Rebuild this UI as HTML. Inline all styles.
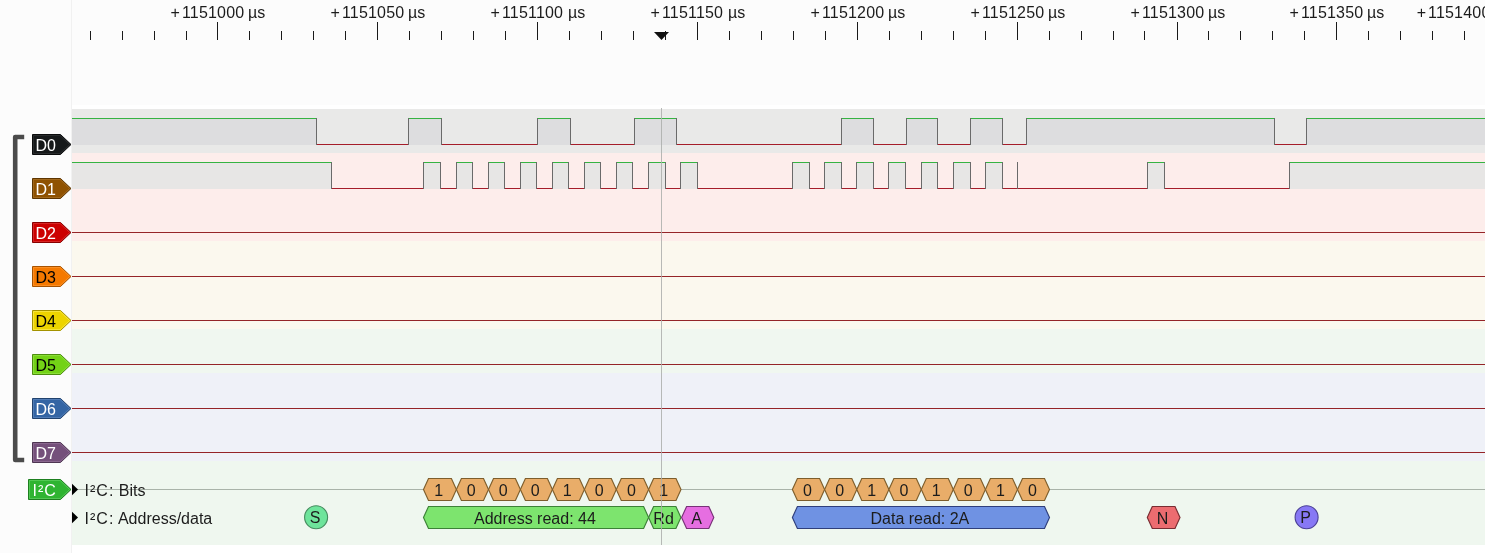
<!DOCTYPE html>
<html lang="en"><head><meta charset="utf-8"><title>PulseView I2C decode</title>
<style>html,body{margin:0;padding:0;background:#fcfcfc;}body{width:1485px;height:553px;overflow:hidden;}svg{display:block;}text{font-family:"Liberation Sans", Arial, sans-serif;}</style>
</head><body>
<svg width="1485" height="553" viewBox="0 0 1485 553">
<rect x="0" y="0" width="1485" height="553" fill="#fcfcfc"/>
<rect x="72" y="105" width="1413" height="448" fill="#ffffff"/>
<rect x="71" y="0" width="1" height="553" fill="#f1f1f1"/>
<g shape-rendering="crispEdges">
<rect x="72" y="109" width="1413" height="44" fill="#e9e9e8"/>
<rect x="72" y="153" width="1413" height="88" fill="#fdedeb"/>
<rect x="72" y="241" width="1413" height="88" fill="#fbf8ee"/>
<rect x="72" y="329" width="1413" height="44" fill="#f0f7f0"/>
<rect x="72" y="373" width="1413" height="88" fill="#eff1f8"/>
<rect x="72" y="461" width="1413" height="84" fill="#eff7ef"/>
<rect x="217" y="22" width="1" height="18" fill="#1a1a1a"/>
<rect x="377" y="22" width="1" height="18" fill="#1a1a1a"/>
<rect x="537" y="22" width="1" height="18" fill="#1a1a1a"/>
<rect x="697" y="22" width="1" height="18" fill="#1a1a1a"/>
<rect x="857" y="22" width="1" height="18" fill="#1a1a1a"/>
<rect x="1017" y="22" width="1" height="18" fill="#1a1a1a"/>
<rect x="1177" y="22" width="1" height="18" fill="#1a1a1a"/>
<rect x="1336" y="22" width="1" height="18" fill="#1a1a1a"/>
<rect x="90" y="31" width="1" height="9" fill="#1a1a1a"/>
<rect x="122" y="31" width="1" height="9" fill="#1a1a1a"/>
<rect x="154" y="31" width="1" height="9" fill="#1a1a1a"/>
<rect x="186" y="31" width="1" height="9" fill="#1a1a1a"/>
<rect x="249" y="31" width="1" height="9" fill="#1a1a1a"/>
<rect x="281" y="31" width="1" height="9" fill="#1a1a1a"/>
<rect x="313" y="31" width="1" height="9" fill="#1a1a1a"/>
<rect x="345" y="31" width="1" height="9" fill="#1a1a1a"/>
<rect x="409" y="31" width="1" height="9" fill="#1a1a1a"/>
<rect x="441" y="31" width="1" height="9" fill="#1a1a1a"/>
<rect x="473" y="31" width="1" height="9" fill="#1a1a1a"/>
<rect x="505" y="31" width="1" height="9" fill="#1a1a1a"/>
<rect x="569" y="31" width="1" height="9" fill="#1a1a1a"/>
<rect x="601" y="31" width="1" height="9" fill="#1a1a1a"/>
<rect x="633" y="31" width="1" height="9" fill="#1a1a1a"/>
<rect x="665" y="31" width="1" height="9" fill="#1a1a1a"/>
<rect x="729" y="31" width="1" height="9" fill="#1a1a1a"/>
<rect x="761" y="31" width="1" height="9" fill="#1a1a1a"/>
<rect x="793" y="31" width="1" height="9" fill="#1a1a1a"/>
<rect x="825" y="31" width="1" height="9" fill="#1a1a1a"/>
<rect x="889" y="31" width="1" height="9" fill="#1a1a1a"/>
<rect x="921" y="31" width="1" height="9" fill="#1a1a1a"/>
<rect x="953" y="31" width="1" height="9" fill="#1a1a1a"/>
<rect x="985" y="31" width="1" height="9" fill="#1a1a1a"/>
<rect x="1049" y="31" width="1" height="9" fill="#1a1a1a"/>
<rect x="1081" y="31" width="1" height="9" fill="#1a1a1a"/>
<rect x="1113" y="31" width="1" height="9" fill="#1a1a1a"/>
<rect x="1144" y="31" width="1" height="9" fill="#1a1a1a"/>
<rect x="1208" y="31" width="1" height="9" fill="#1a1a1a"/>
<rect x="1240" y="31" width="1" height="9" fill="#1a1a1a"/>
<rect x="1272" y="31" width="1" height="9" fill="#1a1a1a"/>
<rect x="1304" y="31" width="1" height="9" fill="#1a1a1a"/>
<rect x="1368" y="31" width="1" height="9" fill="#1a1a1a"/>
<rect x="1400" y="31" width="1" height="9" fill="#1a1a1a"/>
<rect x="1432" y="31" width="1" height="9" fill="#1a1a1a"/>
<rect x="1464" y="31" width="1" height="9" fill="#1a1a1a"/>
</g>
<text y="18.3" font-size="16" fill="#1c1c1c"><tspan x="170.6">+</tspan><tspan x="181.9" letter-spacing="0.2">1151000</tspan><tspan x="248.0">µs</tspan></text>
<text y="18.3" font-size="16" fill="#1c1c1c"><tspan x="330.6">+</tspan><tspan x="341.9" letter-spacing="0.2">1151050</tspan><tspan x="408.0">µs</tspan></text>
<text y="18.3" font-size="16" fill="#1c1c1c"><tspan x="490.6">+</tspan><tspan x="501.9" letter-spacing="0.2">1151100</tspan><tspan x="568.0">µs</tspan></text>
<text y="18.3" font-size="16" fill="#1c1c1c"><tspan x="650.6">+</tspan><tspan x="661.9" letter-spacing="0.2">1151150</tspan><tspan x="728.0">µs</tspan></text>
<text y="18.3" font-size="16" fill="#1c1c1c"><tspan x="810.6">+</tspan><tspan x="821.9" letter-spacing="0.2">1151200</tspan><tspan x="888.0">µs</tspan></text>
<text y="18.3" font-size="16" fill="#1c1c1c"><tspan x="970.6">+</tspan><tspan x="981.9" letter-spacing="0.2">1151250</tspan><tspan x="1048.0">µs</tspan></text>
<text y="18.3" font-size="16" fill="#1c1c1c"><tspan x="1130.6">+</tspan><tspan x="1141.9" letter-spacing="0.2">1151300</tspan><tspan x="1208.0">µs</tspan></text>
<text y="18.3" font-size="16" fill="#1c1c1c"><tspan x="1289.6">+</tspan><tspan x="1300.9" letter-spacing="0.2">1151350</tspan><tspan x="1367.0">µs</tspan></text>
<text y="18.3" font-size="16" fill="#1c1c1c"><tspan x="1416.7">+</tspan><tspan x="1428.0" letter-spacing="0.2">1151400</tspan><tspan x="1494.1">µs</tspan></text>
<polygon points="654,32 669,32 661.5,40" fill="#111"/>
<g shape-rendering="crispEdges">
<rect x="72" y="119" width="244" height="26" fill="#dddddf"/>
<rect x="408" y="119" width="33" height="26" fill="#dddddf"/>
<rect x="537" y="119" width="33" height="26" fill="#dddddf"/>
<rect x="634" y="119" width="42" height="26" fill="#dddddf"/>
<rect x="841" y="119" width="32" height="26" fill="#dddddf"/>
<rect x="906" y="119" width="31" height="26" fill="#dddddf"/>
<rect x="970" y="119" width="32" height="26" fill="#dddddf"/>
<rect x="1026" y="119" width="248" height="26" fill="#dddddf"/>
<rect x="1306" y="119" width="179" height="26" fill="#dddddf"/>
<rect x="72" y="118" width="245" height="1" fill="#36b342"/>
<rect x="316" y="144" width="93" height="1" fill="#a51d2a"/>
<rect x="408" y="118" width="34" height="1" fill="#36b342"/>
<rect x="441" y="144" width="97" height="1" fill="#a51d2a"/>
<rect x="537" y="118" width="34" height="1" fill="#36b342"/>
<rect x="570" y="144" width="65" height="1" fill="#a51d2a"/>
<rect x="634" y="118" width="43" height="1" fill="#36b342"/>
<rect x="676" y="144" width="166" height="1" fill="#a51d2a"/>
<rect x="841" y="118" width="33" height="1" fill="#36b342"/>
<rect x="873" y="144" width="34" height="1" fill="#a51d2a"/>
<rect x="906" y="118" width="32" height="1" fill="#36b342"/>
<rect x="937" y="144" width="34" height="1" fill="#a51d2a"/>
<rect x="970" y="118" width="33" height="1" fill="#36b342"/>
<rect x="1002" y="144" width="25" height="1" fill="#a51d2a"/>
<rect x="1026" y="118" width="249" height="1" fill="#36b342"/>
<rect x="1274" y="144" width="33" height="1" fill="#a51d2a"/>
<rect x="1306" y="118" width="179" height="1" fill="#36b342"/>
<rect x="316" y="118" width="1" height="27" fill="#6a6a6a"/>
<rect x="408" y="118" width="1" height="27" fill="#6a6a6a"/>
<rect x="441" y="118" width="1" height="27" fill="#6a6a6a"/>
<rect x="537" y="118" width="1" height="27" fill="#6a6a6a"/>
<rect x="570" y="118" width="1" height="27" fill="#6a6a6a"/>
<rect x="634" y="118" width="1" height="27" fill="#6a6a6a"/>
<rect x="676" y="118" width="1" height="27" fill="#6a6a6a"/>
<rect x="841" y="118" width="1" height="27" fill="#6a6a6a"/>
<rect x="873" y="118" width="1" height="27" fill="#6a6a6a"/>
<rect x="906" y="118" width="1" height="27" fill="#6a6a6a"/>
<rect x="937" y="118" width="1" height="27" fill="#6a6a6a"/>
<rect x="970" y="118" width="1" height="27" fill="#6a6a6a"/>
<rect x="1002" y="118" width="1" height="27" fill="#6a6a6a"/>
<rect x="1026" y="118" width="1" height="27" fill="#6a6a6a"/>
<rect x="1274" y="118" width="1" height="27" fill="#6a6a6a"/>
<rect x="1306" y="118" width="1" height="27" fill="#6a6a6a"/>
</g>
<g shape-rendering="crispEdges">
<rect x="72" y="163" width="259" height="26" fill="#e7e6e5"/>
<rect x="423" y="163" width="17" height="26" fill="#e7e6e5"/>
<rect x="456" y="163" width="16" height="26" fill="#e7e6e5"/>
<rect x="488" y="163" width="16" height="26" fill="#e7e6e5"/>
<rect x="520" y="163" width="16" height="26" fill="#e7e6e5"/>
<rect x="552" y="163" width="16" height="26" fill="#e7e6e5"/>
<rect x="584" y="163" width="16" height="26" fill="#e7e6e5"/>
<rect x="616" y="163" width="16" height="26" fill="#e7e6e5"/>
<rect x="648" y="163" width="17" height="26" fill="#e7e6e5"/>
<rect x="680" y="163" width="17" height="26" fill="#e7e6e5"/>
<rect x="792" y="163" width="17" height="26" fill="#e7e6e5"/>
<rect x="824" y="163" width="17" height="26" fill="#e7e6e5"/>
<rect x="856" y="163" width="17" height="26" fill="#e7e6e5"/>
<rect x="888" y="163" width="17" height="26" fill="#e7e6e5"/>
<rect x="921" y="163" width="16" height="26" fill="#e7e6e5"/>
<rect x="953" y="163" width="17" height="26" fill="#e7e6e5"/>
<rect x="985" y="163" width="17" height="26" fill="#e7e6e5"/>
<rect x="1147" y="163" width="17" height="26" fill="#e7e6e5"/>
<rect x="1289" y="163" width="196" height="26" fill="#e7e6e5"/>
<rect x="72" y="162" width="260" height="1" fill="#36b342"/>
<rect x="331" y="188" width="93" height="1" fill="#a51d2a"/>
<rect x="423" y="162" width="18" height="1" fill="#36b342"/>
<rect x="440" y="188" width="17" height="1" fill="#a51d2a"/>
<rect x="456" y="162" width="17" height="1" fill="#36b342"/>
<rect x="472" y="188" width="17" height="1" fill="#a51d2a"/>
<rect x="488" y="162" width="17" height="1" fill="#36b342"/>
<rect x="504" y="188" width="17" height="1" fill="#a51d2a"/>
<rect x="520" y="162" width="17" height="1" fill="#36b342"/>
<rect x="536" y="188" width="17" height="1" fill="#a51d2a"/>
<rect x="552" y="162" width="17" height="1" fill="#36b342"/>
<rect x="568" y="188" width="17" height="1" fill="#a51d2a"/>
<rect x="584" y="162" width="17" height="1" fill="#36b342"/>
<rect x="600" y="188" width="17" height="1" fill="#a51d2a"/>
<rect x="616" y="162" width="17" height="1" fill="#36b342"/>
<rect x="632" y="188" width="17" height="1" fill="#a51d2a"/>
<rect x="648" y="162" width="18" height="1" fill="#36b342"/>
<rect x="665" y="188" width="16" height="1" fill="#a51d2a"/>
<rect x="680" y="162" width="18" height="1" fill="#36b342"/>
<rect x="697" y="188" width="96" height="1" fill="#a51d2a"/>
<rect x="792" y="162" width="18" height="1" fill="#36b342"/>
<rect x="809" y="188" width="16" height="1" fill="#a51d2a"/>
<rect x="824" y="162" width="18" height="1" fill="#36b342"/>
<rect x="841" y="188" width="16" height="1" fill="#a51d2a"/>
<rect x="856" y="162" width="18" height="1" fill="#36b342"/>
<rect x="873" y="188" width="16" height="1" fill="#a51d2a"/>
<rect x="888" y="162" width="18" height="1" fill="#36b342"/>
<rect x="905" y="188" width="17" height="1" fill="#a51d2a"/>
<rect x="921" y="162" width="17" height="1" fill="#36b342"/>
<rect x="937" y="188" width="17" height="1" fill="#a51d2a"/>
<rect x="953" y="162" width="18" height="1" fill="#36b342"/>
<rect x="970" y="188" width="16" height="1" fill="#a51d2a"/>
<rect x="985" y="162" width="18" height="1" fill="#36b342"/>
<rect x="1002" y="188" width="146" height="1" fill="#a51d2a"/>
<rect x="1147" y="162" width="18" height="1" fill="#36b342"/>
<rect x="1164" y="188" width="126" height="1" fill="#a51d2a"/>
<rect x="1289" y="162" width="196" height="1" fill="#36b342"/>
<rect x="331" y="162" width="1" height="27" fill="#6a6a6a"/>
<rect x="423" y="162" width="1" height="27" fill="#6a6a6a"/>
<rect x="440" y="162" width="1" height="27" fill="#6a6a6a"/>
<rect x="456" y="162" width="1" height="27" fill="#6a6a6a"/>
<rect x="472" y="162" width="1" height="27" fill="#6a6a6a"/>
<rect x="488" y="162" width="1" height="27" fill="#6a6a6a"/>
<rect x="504" y="162" width="1" height="27" fill="#6a6a6a"/>
<rect x="520" y="162" width="1" height="27" fill="#6a6a6a"/>
<rect x="536" y="162" width="1" height="27" fill="#6a6a6a"/>
<rect x="552" y="162" width="1" height="27" fill="#6a6a6a"/>
<rect x="568" y="162" width="1" height="27" fill="#6a6a6a"/>
<rect x="584" y="162" width="1" height="27" fill="#6a6a6a"/>
<rect x="600" y="162" width="1" height="27" fill="#6a6a6a"/>
<rect x="616" y="162" width="1" height="27" fill="#6a6a6a"/>
<rect x="632" y="162" width="1" height="27" fill="#6a6a6a"/>
<rect x="648" y="162" width="1" height="27" fill="#6a6a6a"/>
<rect x="665" y="162" width="1" height="27" fill="#6a6a6a"/>
<rect x="680" y="162" width="1" height="27" fill="#6a6a6a"/>
<rect x="697" y="162" width="1" height="27" fill="#6a6a6a"/>
<rect x="792" y="162" width="1" height="27" fill="#6a6a6a"/>
<rect x="809" y="162" width="1" height="27" fill="#6a6a6a"/>
<rect x="824" y="162" width="1" height="27" fill="#6a6a6a"/>
<rect x="841" y="162" width="1" height="27" fill="#6a6a6a"/>
<rect x="856" y="162" width="1" height="27" fill="#6a6a6a"/>
<rect x="873" y="162" width="1" height="27" fill="#6a6a6a"/>
<rect x="888" y="162" width="1" height="27" fill="#6a6a6a"/>
<rect x="905" y="162" width="1" height="27" fill="#6a6a6a"/>
<rect x="921" y="162" width="1" height="27" fill="#6a6a6a"/>
<rect x="937" y="162" width="1" height="27" fill="#6a6a6a"/>
<rect x="953" y="162" width="1" height="27" fill="#6a6a6a"/>
<rect x="970" y="162" width="1" height="27" fill="#6a6a6a"/>
<rect x="985" y="162" width="1" height="27" fill="#6a6a6a"/>
<rect x="1002" y="162" width="1" height="27" fill="#6a6a6a"/>
<rect x="1147" y="162" width="1" height="27" fill="#6a6a6a"/>
<rect x="1164" y="162" width="1" height="27" fill="#6a6a6a"/>
<rect x="1289" y="162" width="1" height="27" fill="#6a6a6a"/>
</g>
<rect x="1017" y="162" width="1" height="27" fill="#6a6a6a" shape-rendering="crispEdges"/>
<g shape-rendering="crispEdges">
<rect x="72" y="232" width="1413" height="1" fill="#952428"/>
<rect x="72" y="276" width="1413" height="1" fill="#952428"/>
<rect x="72" y="320" width="1413" height="1" fill="#952428"/>
<rect x="72" y="364" width="1413" height="1" fill="#952428"/>
<rect x="72" y="408" width="1413" height="1" fill="#952428"/>
<rect x="72" y="452" width="1413" height="1" fill="#952428"/>
<rect x="72" y="489" width="1413" height="1" fill="#a9b3a9"/>
</g>
<polygon points="423.5,489.5 428.5,478.5 451.4,478.5 456.4,489.5 451.4,500.5 428.5,500.5" fill="#e9ad69" stroke="#7e5e2c" stroke-width="1.15"/>
<text x="438.8" y="495.5" font-size="16" text-anchor="middle" fill="#1c1c1c">1</text>
<polygon points="456.4,489.5 461.4,478.5 483.5,478.5 488.5,489.5 483.5,500.5 461.4,500.5" fill="#e9ad69" stroke="#7e5e2c" stroke-width="1.15"/>
<text x="471.3" y="495.5" font-size="16" text-anchor="middle" fill="#1c1c1c">0</text>
<polygon points="488.5,489.5 493.5,478.5 515.4,478.5 520.4,489.5 515.4,500.5 493.5,500.5" fill="#e9ad69" stroke="#7e5e2c" stroke-width="1.15"/>
<text x="503.3" y="495.5" font-size="16" text-anchor="middle" fill="#1c1c1c">0</text>
<polygon points="520.4,489.5 525.4,478.5 547.4,478.5 552.4,489.5 547.4,500.5 525.4,500.5" fill="#e9ad69" stroke="#7e5e2c" stroke-width="1.15"/>
<text x="535.3" y="495.5" font-size="16" text-anchor="middle" fill="#1c1c1c">0</text>
<polygon points="552.4,489.5 557.4,478.5 579.4,478.5 584.4,489.5 579.4,500.5 557.4,500.5" fill="#e9ad69" stroke="#7e5e2c" stroke-width="1.15"/>
<text x="567.3" y="495.5" font-size="16" text-anchor="middle" fill="#1c1c1c">1</text>
<polygon points="584.4,489.5 589.4,478.5 611.3,478.5 616.3,489.5 611.3,500.5 589.4,500.5" fill="#e9ad69" stroke="#7e5e2c" stroke-width="1.15"/>
<text x="599.2" y="495.5" font-size="16" text-anchor="middle" fill="#1c1c1c">0</text>
<polygon points="616.3,489.5 621.3,478.5 643.6,478.5 648.6,489.5 643.6,500.5 621.3,500.5" fill="#e9ad69" stroke="#7e5e2c" stroke-width="1.15"/>
<text x="631.4" y="495.5" font-size="16" text-anchor="middle" fill="#1c1c1c">0</text>
<polygon points="648.6,489.5 653.6,478.5 676.0,478.5 681.0,489.5 676.0,500.5 653.6,500.5" fill="#e9ad69" stroke="#7e5e2c" stroke-width="1.15"/>
<text x="663.7" y="495.5" font-size="16" text-anchor="middle" fill="#1c1c1c">1</text>
<polygon points="792.4,489.5 797.4,478.5 819.6,478.5 824.6,489.5 819.6,500.5 797.4,500.5" fill="#e9ad69" stroke="#7e5e2c" stroke-width="1.15"/>
<text x="807.4" y="495.5" font-size="16" text-anchor="middle" fill="#1c1c1c">0</text>
<polygon points="824.6,489.5 829.6,478.5 851.8,478.5 856.8,489.5 851.8,500.5 829.6,500.5" fill="#e9ad69" stroke="#7e5e2c" stroke-width="1.15"/>
<text x="839.6" y="495.5" font-size="16" text-anchor="middle" fill="#1c1c1c">0</text>
<polygon points="856.8,489.5 861.8,478.5 883.9,478.5 888.9,489.5 883.9,500.5 861.8,500.5" fill="#e9ad69" stroke="#7e5e2c" stroke-width="1.15"/>
<text x="871.7" y="495.5" font-size="16" text-anchor="middle" fill="#1c1c1c">1</text>
<polygon points="888.9,489.5 893.9,478.5 916.3,478.5 921.3,489.5 916.3,500.5 893.9,500.5" fill="#e9ad69" stroke="#7e5e2c" stroke-width="1.15"/>
<text x="904.0" y="495.5" font-size="16" text-anchor="middle" fill="#1c1c1c">0</text>
<polygon points="921.3,489.5 926.3,478.5 948.3,478.5 953.3,489.5 948.3,500.5 926.3,500.5" fill="#e9ad69" stroke="#7e5e2c" stroke-width="1.15"/>
<text x="936.2" y="495.5" font-size="16" text-anchor="middle" fill="#1c1c1c">1</text>
<polygon points="953.3,489.5 958.3,478.5 980.4,478.5 985.4,489.5 980.4,500.5 958.3,500.5" fill="#e9ad69" stroke="#7e5e2c" stroke-width="1.15"/>
<text x="968.2" y="495.5" font-size="16" text-anchor="middle" fill="#1c1c1c">0</text>
<polygon points="985.4,489.5 990.4,478.5 1012.5,478.5 1017.5,489.5 1012.5,500.5 990.4,500.5" fill="#e9ad69" stroke="#7e5e2c" stroke-width="1.15"/>
<text x="1000.4" y="495.5" font-size="16" text-anchor="middle" fill="#1c1c1c">1</text>
<polygon points="1017.5,489.5 1022.5,478.5 1044.5,478.5 1049.5,489.5 1044.5,500.5 1022.5,500.5" fill="#e9ad69" stroke="#7e5e2c" stroke-width="1.15"/>
<text x="1032.4" y="495.5" font-size="16" text-anchor="middle" fill="#1c1c1c">0</text>
<circle cx="316.1" cy="517.3" r="11.5" fill="#6ee49b" stroke="#468c5f" stroke-width="1.1"/>
<text x="315.2" y="523.3" font-size="16" text-anchor="middle" fill="#1c1c1c">S</text>
<polygon points="423.5,517.5 428.5,506.5 643.6,506.5 648.6,517.5 643.6,528.5 428.5,528.5" fill="#7de46e" stroke="#3c8237" stroke-width="1.15"/>
<text x="534.9" y="523.5" font-size="16" text-anchor="middle" fill="#1c1c1c">Address read: 44</text>
<polygon points="648.6,517.5 653.6,506.5 675.9,506.5 680.9,517.5 675.9,528.5 653.6,528.5" fill="#7de46e" stroke="#3c8237" stroke-width="1.15"/>
<text x="663.6" y="523.5" font-size="16" text-anchor="middle" fill="#1c1c1c">Rd</text>
<polygon points="681.6,517.5 686.6,506.5 708.8,506.5 713.8,517.5 708.8,528.5 686.6,528.5" fill="#e66ee1" stroke="#783278" stroke-width="1.15"/>
<text x="696.6" y="523.5" font-size="16" text-anchor="middle" fill="#1c1c1c">A</text>
<polygon points="792.4,517.5 797.4,506.5 1044.5,506.5 1049.5,517.5 1044.5,528.5 797.4,528.5" fill="#6f92e3" stroke="#2f3f7c" stroke-width="1.15"/>
<text x="919.9" y="523.5" font-size="16" text-anchor="middle" fill="#1c1c1c">Data read: 2A</text>
<polygon points="1147.3,517.5 1152.3,506.5 1175.0,506.5 1180.0,517.5 1175.0,528.5 1152.3,528.5" fill="#ec6c70" stroke="#782d32" stroke-width="1.15"/>
<text x="1162.6" y="523.5" font-size="16" text-anchor="middle" fill="#1c1c1c">N</text>
<circle cx="1306.6" cy="517.3" r="11.5" fill="#8778f5" stroke="#4b4196" stroke-width="1.1"/>
<text x="1305.7" y="523.3" font-size="16" text-anchor="middle" fill="#1c1c1c">P</text>
<rect x="661" y="108" width="1" height="437" fill="#abaeab" fill-opacity="0.85" shape-rendering="crispEdges"/>
<polygon points="72,483.8 72,495.2 78,489.5" fill="#000"/>
<text x="84.6" y="495.5" font-size="16" fill="#1c1c1c"><tspan letter-spacing="1">I²C:</tspan> Bits</text>
<polygon points="72,511.8 72,523.2 78,517.5" fill="#000"/>
<text x="84.6" y="523.5" font-size="16" fill="#1c1c1c"><tspan letter-spacing="1">I²C:</tspan> Address/data</text>
<path d="M24.2,137 H15.2 V460 H24.2" fill="none" stroke="#4b4b4b" stroke-width="4.6" stroke-linejoin="round" stroke-linecap="butt"/>
<polygon points="32.5,134.5 60.5,134.5 71.0,144.5 60.5,154.5 32.5,154.5" fill="#16191a" stroke="#0b0c0d" stroke-width="1" stroke-linejoin="round"/>
<polygon points="33.5,135.5 60.1,135.5 69.6,144.5 60.1,153.5 33.5,153.5" fill="none" stroke="#3a3d3e" stroke-width="1" stroke-opacity="0.55"/>
<text x="35.5" y="150.5" font-size="16" letter-spacing="0.0" fill="#fff">D0</text>
<polygon points="32.5,178.5 60.5,178.5 71.0,188.5 60.5,198.5 32.5,198.5" fill="#8f5202" stroke="#5e3601" stroke-width="1" stroke-linejoin="round"/>
<polygon points="33.5,179.5 60.1,179.5 69.6,188.5 60.1,197.5 33.5,197.5" fill="none" stroke="#b07a33" stroke-width="1" stroke-opacity="0.55"/>
<text x="35.5" y="194.5" font-size="16" letter-spacing="0.0" fill="#fff">D1</text>
<polygon points="32.5,222.5 60.5,222.5 71.0,232.5 60.5,242.5 32.5,242.5" fill="#cc0000" stroke="#880000" stroke-width="1" stroke-linejoin="round"/>
<polygon points="33.5,223.5 60.1,223.5 69.6,232.5 60.1,241.5 33.5,241.5" fill="none" stroke="#e04545" stroke-width="1" stroke-opacity="0.55"/>
<text x="35.5" y="238.5" font-size="16" letter-spacing="0.0" fill="#fff">D2</text>
<polygon points="32.5,266.5 60.5,266.5 71.0,276.5 60.5,286.5 32.5,286.5" fill="#f57900" stroke="#a85300" stroke-width="1" stroke-linejoin="round"/>
<polygon points="33.5,267.5 60.1,267.5 69.6,276.5 60.1,285.5 33.5,285.5" fill="none" stroke="#ffa040" stroke-width="1" stroke-opacity="0.55"/>
<text x="35.5" y="282.5" font-size="16" letter-spacing="0.0" fill="#000">D3</text>
<polygon points="32.5,310.5 60.5,310.5 71.0,320.5 60.5,330.5 32.5,330.5" fill="#edd400" stroke="#a39200" stroke-width="1" stroke-linejoin="round"/>
<polygon points="33.5,311.5 60.1,311.5 69.6,320.5 60.1,329.5 33.5,329.5" fill="none" stroke="#fff06a" stroke-width="1" stroke-opacity="0.55"/>
<text x="35.5" y="326.5" font-size="16" letter-spacing="0.0" fill="#000">D4</text>
<polygon points="32.5,354.5 60.5,354.5 71.0,364.5 60.5,374.5 32.5,374.5" fill="#73d216" stroke="#4d8d0f" stroke-width="1" stroke-linejoin="round"/>
<polygon points="33.5,355.5 60.1,355.5 69.6,364.5 60.1,373.5 33.5,373.5" fill="none" stroke="#9eea55" stroke-width="1" stroke-opacity="0.55"/>
<text x="35.5" y="370.5" font-size="16" letter-spacing="0.0" fill="#000">D5</text>
<polygon points="32.5,398.5 60.5,398.5 71.0,408.5 60.5,418.5 32.5,418.5" fill="#3465a4" stroke="#22436e" stroke-width="1" stroke-linejoin="round"/>
<polygon points="33.5,399.5 60.1,399.5 69.6,408.5 60.1,417.5 33.5,417.5" fill="none" stroke="#6a90c4" stroke-width="1" stroke-opacity="0.55"/>
<text x="35.5" y="414.5" font-size="16" letter-spacing="0.0" fill="#fff">D6</text>
<polygon points="32.5,442.5 60.5,442.5 71.0,452.5 60.5,462.5 32.5,462.5" fill="#75507b" stroke="#4e3552" stroke-width="1" stroke-linejoin="round"/>
<polygon points="33.5,443.5 60.1,443.5 69.6,452.5 60.1,461.5 33.5,461.5" fill="none" stroke="#9a7aa0" stroke-width="1" stroke-opacity="0.55"/>
<text x="35.5" y="458.5" font-size="16" letter-spacing="0.0" fill="#fff">D7</text>
<polygon points="28.5,479.5 60.5,479.5 71.0,489.5 60.5,499.5 28.5,499.5" fill="#2fb431" stroke="#1d7f1f" stroke-width="1" stroke-linejoin="round"/>
<polygon points="29.5,480.5 60.1,480.5 69.6,489.5 60.1,498.5 29.5,498.5" fill="none" stroke="#6fd870" stroke-width="1" stroke-opacity="0.55"/>
<text x="32.5" y="495.5" font-size="16" letter-spacing="1.0" fill="#fff">I²C</text>
</svg>
</body></html>
